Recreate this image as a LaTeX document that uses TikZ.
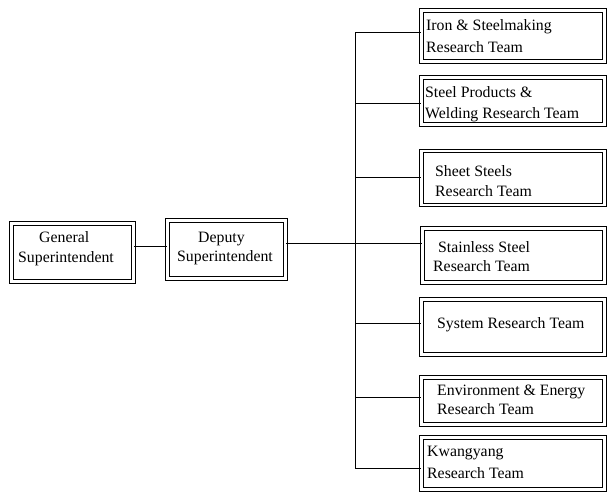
\documentclass[tikz,border=0pt]{standalone}
\usepackage{fontspec}
\setmainfont{Liberation Serif}
\begin{document}
\begin{tikzpicture}[x=1pt,y=-1pt,
  frame/.style={draw=black, line width=0.9pt, double=white, double distance=2.8pt, inner sep=0pt},
  wire/.style={draw=black, line width=1pt},
  txt/.style={anchor=base west, inner sep=0pt, font=\fontsize{15.8}{19}\selectfont}]
\useasboundingbox (0,0) rectangle (609,493);
% box macro: name, x1, y1, x2, y2 (frame mid-line)
\newcommand\orgbox[5]{%
  \node[frame, minimum width={#4-#2}, minimum height={#5-#3}]
    (#1) at ({(#2+#4)/2},{(#3+#5)/2}) {};}
% management boxes
\orgbox{gen}{11.5}{223.5}{133.5}{281.5}
\orgbox{dep}{167.5}{220.5}{285.5}{278.5}
% research teams
\orgbox{iron}{421.5}{10.5}{604.5}{61.5}
\orgbox{prod}{421.5}{77.5}{604.5}{124.5}
\orgbox{sheet}{421.5}{151}{604.5}{205}
\orgbox{stain}{422.5}{228.5}{604.5}{282.5}
\orgbox{sys}{421.5}{299.5}{604.5}{354.5}
\orgbox{env}{421.5}{377.5}{604.5}{424.5}
\orgbox{kwang}{421.5}{437.5}{604.5}{489.5}
% labels
\node[txt] (genA) at (39,242) {General};
\node[txt] (genB) at (18,262) {Superintendent};
\node[txt] (depA) at (198,242) {Deputy};
\node[txt] (depB) at (177,261) {Superintendent};
\node[txt] (ironA) at (426,30) {Iron \& Steelmaking};
\node[txt] (ironB) at (426,52) {Research Team};
\node[txt] (prodA) at (425,97) {Steel Products \&};
\node[txt] (prodB) at (425,118) {Welding Research Team};
\node[txt] (sheetA) at (435,176) {Sheet Steels};
\node[txt] (sheetB) at (435,196) {Research Team};
\node[txt] (stainA) at (438,252) {Stainless Steel};
\node[txt] (stainB) at (433,271) {Research Team};
\node[txt] (sysA) at (437,328) {System Research Team};
\node[txt] (envA) at (437,395) {Environment \& Energy};
\node[txt] (envB) at (437,414) {Research Team};
\node[txt] (kwangA) at (427,456) {Kwangyang};
\node[txt] (kwangB) at (427,478) {Research Team};
% spine and branch points
\coordinate (s1) at (355,32);
\coordinate (s2) at (355,103);
\coordinate (s3) at (355,177);
\coordinate (s4) at (355,243);
\coordinate (s5) at (355,323);
\coordinate (s6) at (355,397);
\coordinate (s7) at (355,468);
\coordinate (g1) at (0,246);
% connectors
\draw[wire] (gen.east |- g1) -- (dep.west |- g1);
\draw[wire] (dep.east |- s4) -- (stain.west |- s4);
\draw[wire] (s1) -- (s7);
\draw[wire] (s1) -- (iron.west |- s1);
\draw[wire] (s2) -- (prod.west |- s2);
\draw[wire] (s3) -- (sheet.west |- s3);
\draw[wire] (s5) -- (sys.west |- s5);
\draw[wire] (s6) -- (env.west |- s6);
\draw[wire] (s7) -- (kwang.west |- s7);
\end{tikzpicture}
\end{document}
